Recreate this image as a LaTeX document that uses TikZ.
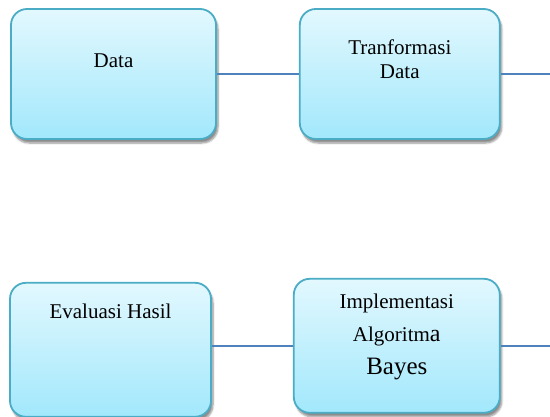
\documentclass[tikz,border=0pt]{standalone}
\usepackage{fontspec}
\setmainfont{Liberation Serif}
\usetikzlibrary{positioning, shadows.blur}
\definecolor{mteal}{HTML}{4BACC6}
\definecolor{mline}{HTML}{4F81BD}
\definecolor{mtop}{HTML}{E2F8FE}
\definecolor{mbot}{HTML}{A2E8FC}
\tikzstyle{stage} = [rectangle, rounded corners=16pt, draw=mteal, line width=1.8pt, top color=mtop, bottom color=mbot, minimum width=203pt, minimum height=130pt, blur shadow={shadow xshift=2pt, shadow yshift=-4pt, shadow blur steps=6, shadow opacity=45}]
\tikzstyle{caption} = [font=\fontsize{21}{24}\selectfont, align=center, inner sep=0pt, anchor=base]
\tikzstyle{link} = [mline, line width=1.8pt]

\begin{document}
\begin{tikzpicture}[x=1pt, y=-1pt, node distance=82pt]
  \useasboundingbox (0,0) rectangle (550,417);
  \coordinate (rim) at (550,0);
  % top row
  \node (data) [stage, minimum width=205pt] at (113.5,74) {};
  \node (trans) [stage, right=of data, minimum width=200pt] {};
  % bottom row
  \node (impl) [stage, below=138pt of trans, xshift=-3pt, minimum width=206pt, minimum height=134pt] {};
  \node (eval) [stage, left=81pt of impl, yshift=-4pt, minimum width=201pt, minimum height=134pt] {};
  % captions sit on the baseline of their last line
  \node (dataTxt) [caption] at ([yshift=-59pt]data.north) {Data};
  \node (transTxt) [caption] at ([yshift=-70pt]trans.north) {Tranformasi\\Data};
  \node (implTxt) [caption, font=\fontsize{21}{33}\selectfont] at ([yshift=-97pt]impl.north) {Implementasi\\Algoritm{\fontsize{24}{33}\selectfont a}\\{\fontsize{25}{34}\selectfont Bayes}};
  \node (evalTxt) [caption] at ([yshift=-37pt]eval.north) {Evaluasi Hasil};
  \draw [link] (data.east) -- (trans.west);
  \draw [link] (trans.east) -- (trans.east -| rim);
  \draw [link] (impl.west) -- (impl.west -| eval.east);
  \draw [link] (impl.east) -- (impl.east -| rim);
\end{tikzpicture}
\end{document}
